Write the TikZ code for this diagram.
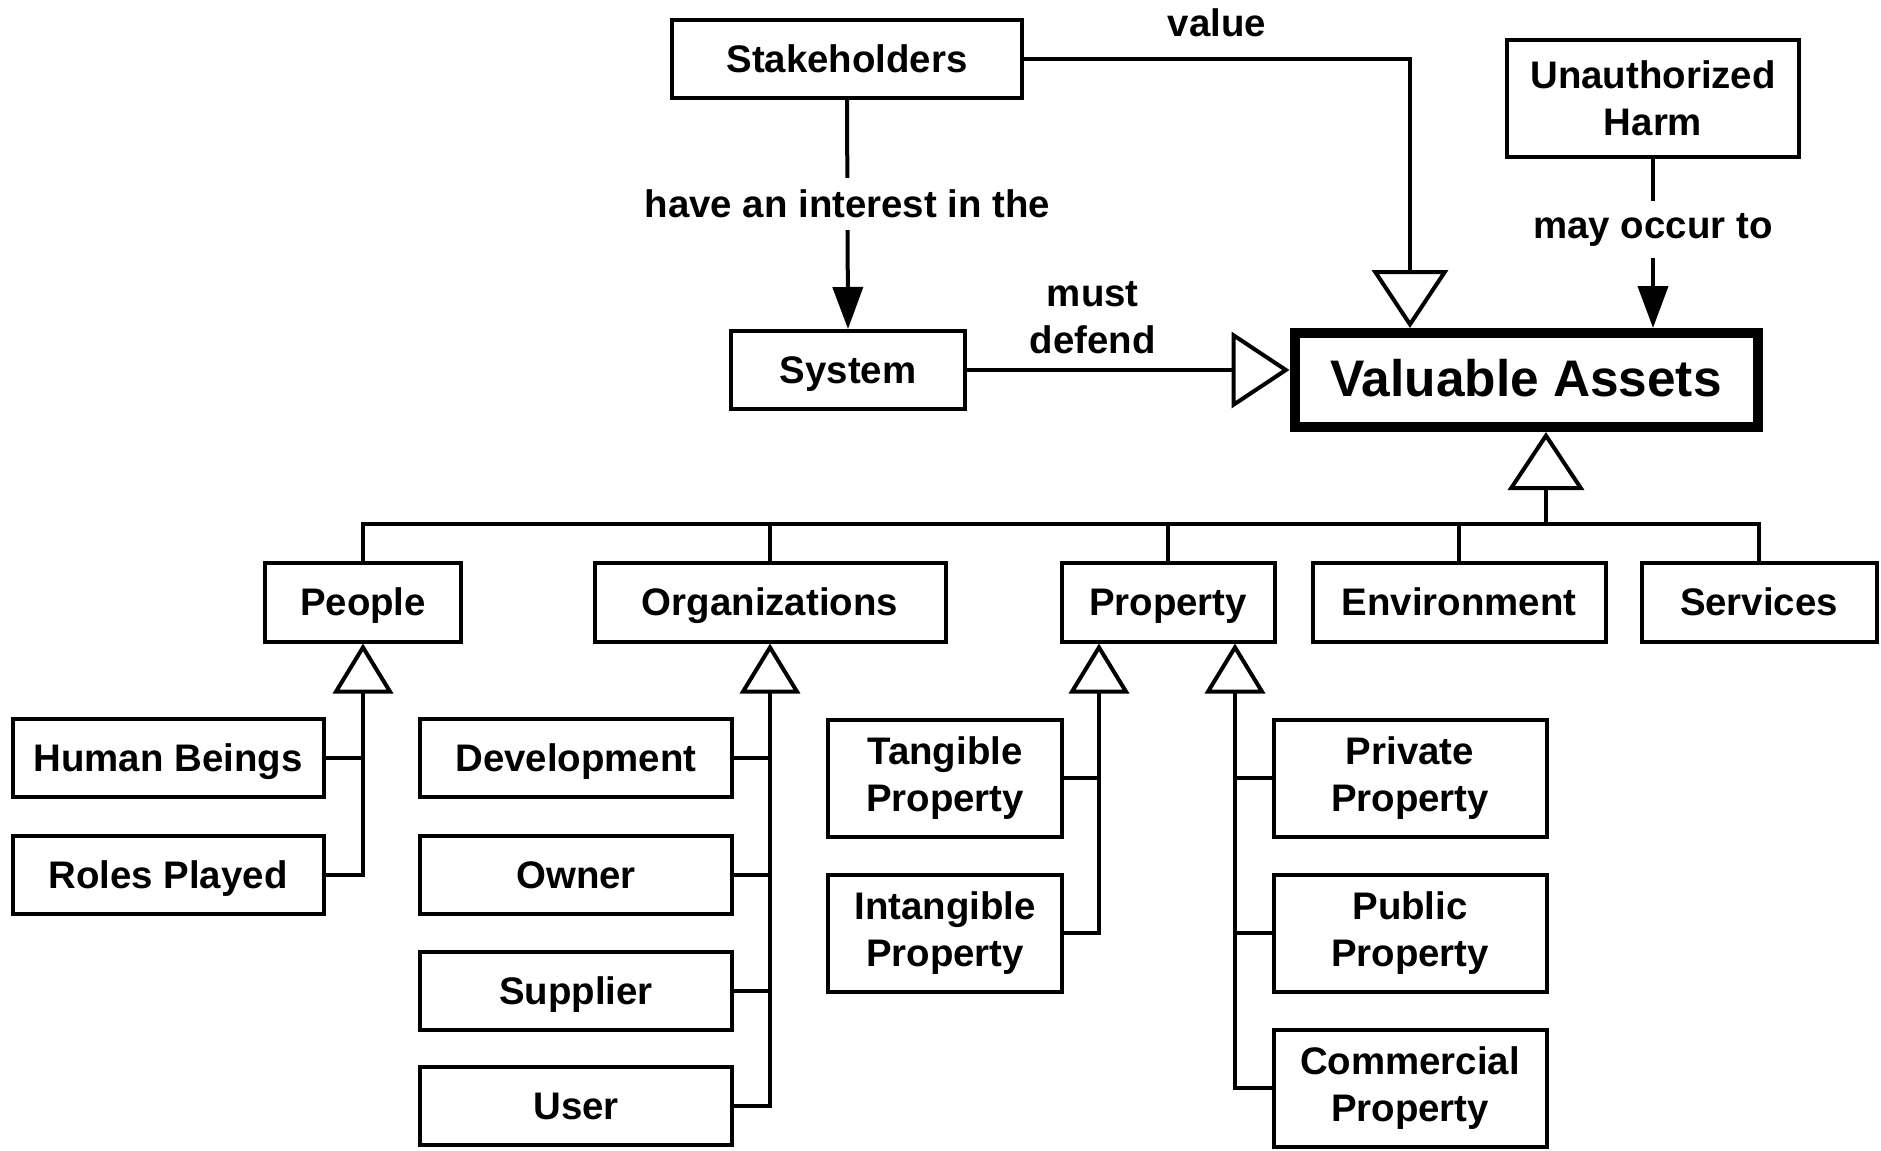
\documentclass[tikz,border=0pt]{standalone}
\usepackage{fontspec}
\setmainfont{Liberation Sans}
\usetikzlibrary{arrows.meta,positioning}

\begin{document}
\begin{tikzpicture}[x=0.5pt,y=-0.5pt,
  font=\fontsize{19.2}{23.5}\selectfont\bfseries,
  box/.style={draw,line width=2pt,inner sep=0pt,align=center},
  onebox/.style={box,text height=13.8pt,text depth=0pt},
  lbl/.style={inner sep=0pt,align=center},
  wire/.style={line width=2pt},
  gen/.style={wire,-{Triangle[open,length=25pt,width=30pt]}},
  biggen/.style={wire,-{Triangle[open,length=29pt,width=38pt]}},
  assoc/.style={wire,-{Triangle[length=21pt,width=15pt]}}]
\useasboundingbox (0,0) rectangle (1881,1151);

% top part
\node[onebox,minimum width=175pt,minimum height=39pt] (sh) at (847,59) {Stakeholders};
\node[box,minimum width=146pt,minimum height=58.5pt] (uh) at (1653,98) {Unauthorized\\Harm};
\node[onebox,minimum width=117pt,minimum height=39pt] (sys) at (848,370) {System};
\node[onebox,line width=5pt,minimum width=231.5pt,minimum height=47pt,text height=16pt,
  font=\fontsize{25.7}{30}\selectfont\bfseries] (va) at (1526,380) {Valuable Assets};

\draw[biggen] (sh.east) -| node[lbl,pos=0.25,above=10pt] {value} ([xshift=-58pt]va.north);
\draw[assoc] (sh.south) -- node[lbl,fill=white,inner ysep=6pt,pos=0.455] {have an interest in the} (sys.north);
\draw[assoc] (uh.south) -- node[lbl,fill=white,inner ysep=6pt,pos=0.42] {may occur to} (uh.south |- va.north);
\draw[biggen] (sys.east) -- node[lbl,pos=0.39,above=7pt] {must\\defend} (sys.east -| va.west);

% kinds of assets
\node[onebox,minimum width=98pt,minimum height=39.5pt] (pp) at (363,602) {People};
\node[onebox,minimum width=175.5pt,minimum height=39.5pt] (org) at (770,602) {Organizations};
\node[onebox,minimum width=106.5pt,minimum height=39.5pt] (prop) at (1168,602) {Property};
\node[onebox,minimum width=146.5pt,minimum height=39.5pt] (env) at (1459,602) {Environment};
\node[onebox,minimum width=117.5pt,minimum height=39.5pt] (serv) at (1759,602) {Services};

\coordinate (bus) at (1546,524);
\draw[biggen] (bus) -- (bus |- va.south);
\foreach \n in {pp,org,prop,env,serv}
  \draw[wire] (\n.north) |- (bus);

% people
\node[onebox,minimum width=155.5pt,minimum height=39pt] (hb) at (168,758) {Human Beings};
\node[onebox,minimum width=155.5pt,minimum height=39pt] (rp) at (168,875) {Roles Played};
\draw[gen] (rp.east) -| (pp.south);
\draw[wire] (hb.east) -- (hb.east -| pp.south);

% organizations
\node[onebox,minimum width=156pt,minimum height=39pt] (dev) at (576,758) {Development};
\node[onebox,minimum width=156pt,minimum height=39pt] (own) at (576,875) {Owner};
\node[onebox,minimum width=156pt,minimum height=39pt] (sup) at (576,991) {Supplier};
\node[onebox,minimum width=156pt,minimum height=39pt] (usr) at (576,1106) {User};
\draw[gen] (usr.east) -| (org.south);
\foreach \n in {dev,own,sup}
  \draw[wire] (\n.east) -- (\n.east -| org.south);

% property
\node[box,minimum width=117pt,minimum height=58.5pt] (tang) at (945,778) {Tangible\\Property};
\node[box,minimum width=117pt,minimum height=58.5pt] (intang) at (945,933) {Intangible\\Property};
\node[box,minimum width=136.5pt,minimum height=58.5pt] (priv) at (1410,778) {Private\\Property};
\node[box,minimum width=136.5pt,minimum height=58.5pt] (pub) at (1410,933) {Public\\Property};
\node[box,minimum width=136.5pt,minimum height=58.5pt] (comm) at (1410,1088) {Commercial\\Property};

\coordinate (pl) at ([xshift=-34.5pt]prop.south);
\coordinate (pr) at ([xshift=33.5pt]prop.south);
\draw[gen] (intang.east) -| (pl);
\draw[wire] (tang.east) -- (tang.east -| pl);
\draw[gen] (comm.west) -| (pr);
\foreach \n in {priv,pub}
  \draw[wire] (\n.west) -- (\n.west -| pr);
\end{tikzpicture}
\end{document}
